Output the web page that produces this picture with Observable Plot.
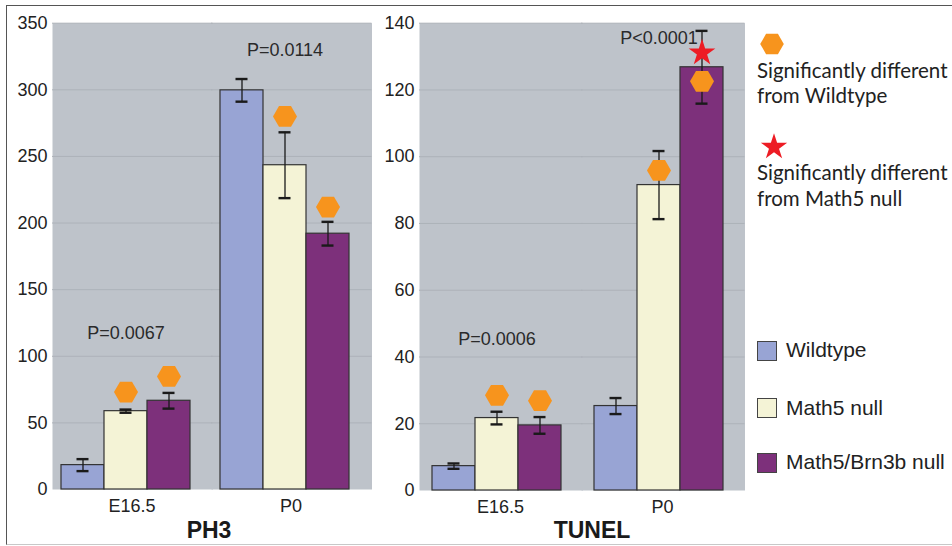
<!DOCTYPE html>
<html><head><meta charset="utf-8">
<script src="https://cdn.jsdelivr.net/npm/d3@7"></script>
<script src="https://cdn.jsdelivr.net/npm/@observablehq/plot@0.6"></script>
<style>
html,body{margin:0;padding:0;background:#fff;}
#root{position:relative;width:952px;height:546px;overflow:hidden;font-family:"Liberation Sans",Arial,sans-serif;color:#222;}
.frame{position:absolute;left:6px;top:5px;width:960px;height:538px;border-top:1.5px solid #555;border-left:1.5px solid #555;border-bottom:1px solid #c8c8c8;}
.panel{position:absolute;top:0;}
.title{position:absolute;font-family:"Liberation Sans",Arial,sans-serif;font-weight:bold;font-size:23px;color:#1a1a1a;transform:translate(-50%,-50%);white-space:nowrap;}
.sig{position:absolute;left:757px;font-family:Lato,"Open Sans",sans-serif;font-size:20.5px;line-height:25.5px;color:#222;white-space:nowrap;}
.icon{position:absolute;}
.sw{position:absolute;left:757px;width:18px;height:18px;border:1px solid #444;}
.swl{position:absolute;left:786px;font-family:"Liberation Sans",Arial,sans-serif;font-size:21px;line-height:24px;color:#222;white-space:nowrap;transform:translateY(-50%);}
</style>
</head><body>
<div id="root"><div class="frame"></div></div>
<script>
// ---------- data ----------
const stages = ["E16.5", "P0"];
const genotypes = ["Wildtype", "Math5 null", "Math5/Brn3b null"];
const genotypeColors = ["#98a4d4", "#f4f3d6", "#7d307b"];

// order: E16.5 (WT, Math5, Math5/Brn3b), P0 (WT, Math5, Math5/Brn3b)
const ph3Mean = [18.3, 58.8, 66.6, 299.6, 243.4, 192.0];
const ph3Err  = [4.5, 1.2, 5.9, 8.5, 24.7, 8.9];
const ph3HexAt = [null, 73.1, 84.9, null, 280.0, 212.0];
const ph3StarAt = [null, null, null, null, null, null];
const ph3PLabels = ["P=0.0067", "P=0.0114"];
const ph3PAt = [117, 330];
const ph3Ticks = [0, 50, 100, 150, 200, 250, 300, 350];

const tunelMean = [7.3, 21.7, 19.5, 25.3, 91.5, 126.8];
const tunelErr  = [0.8, 1.9, 2.5, 2.4, 10.2, 10.9];
const tunelHexAt = [null, 28.5, 26.9, null, 95.9, 122.6];
const tunelStarAt = [null, null, null, null, null, 131.1];
const tunelPLabels = ["P=0.0006", "P<0.0001"];
const tunelPAt = [45.2, 135.5];
const tunelTicks = [0, 20, 40, 60, 80, 100, 120, 140];

const legendSig = [
  {symbol: "hexagon", color: "#f7941d", lines: ["Significantly different", "from Wildtype"]},
  {symbol: "star", color: "#ed1c24", lines: ["Significantly different", "from Math5 null"]}
];

// ---------- drawing ----------
const root = document.getElementById("root");
const font = '"Liberation Sans", Arial, sans-serif';

function panel(o) {
  const rows = [];
  stages.forEach((s, i) => genotypes.forEach((g, j) => {
    const k = i * 3 + j;
    rows.push({stage: s, genotype: g, value: o.means[k], err: o.errs[k], hex: o.hexAt[k], star: o.starAt[k]});
  }));
  const pRows = stages.map((s, i) => ({stage: s, label: o.pLabels[i], at: o.pAt[i]}));
  return Plot.plot({
    width: o.width, height: 546,
    marginLeft: o.marginLeft, marginRight: o.marginRight, marginTop: o.marginTop, marginBottom: o.marginBottom,
    style: {background: "transparent", fontFamily: font, fontSize: "18px", color: "#222", overflow: "visible"},
    fx: {domain: stages, padding: 0, label: null, tickSize: 0, tickPadding: 10, axis: "bottom"},
    x: {domain: genotypes, paddingInner: 0, paddingOuter: o.paddingOuter, align: o.align, axis: null},
    y: {domain: [0, o.yMax], ticks: o.ticks, tickSize: 0, tickPadding: 5, label: null},
    color: {domain: genotypes, range: genotypeColors},
    marks: [
      Plot.frame({fill: "#bec3ca", stroke: null, insetRight: -1.5}),
      Plot.ruleY(o.ticks.filter(t => t > 0), {stroke: "#adb2b9", strokeWidth: 1, insetRight: -1.5}),
      Plot.barY(rows, {fx: "stage", x: "genotype", y: "value", fill: "genotype", stroke: "#333", strokeWidth: 1.2}),
      Plot.text(pRows, {fx: "stage", x: () => genotypes[1], y: "at", text: "label", fontSize: 18, fill: "#2a2a2a"}),
      Plot.ruleX(rows, {fx: "stage", x: "genotype", y1: d => d.value - d.err, y2: d => d.value + d.err, stroke: "#1a1a1a", strokeWidth: 1.3}),
      Plot.tickY(rows, {fx: "stage", x: "genotype", y: d => d.value + d.err, insetLeft: 15.5, insetRight: 15.5, stroke: "#1a1a1a", strokeWidth: 2.4}),
      Plot.tickY(rows, {fx: "stage", x: "genotype", y: d => d.value - d.err, insetLeft: 15.5, insetRight: 15.5, stroke: "#1a1a1a", strokeWidth: 2.4}),
      Plot.dot(rows.filter(d => d.hex != null), {fx: "stage", x: "genotype", y: "hex", symbol: "hexagon", r: 10.4, rotate: 90, fill: "#f7941d", stroke: null}),
      Plot.dot(rows.filter(d => d.star != null), {fx: "stage", x: "genotype", y: "star", symbol: "star", r: 8.4, fill: "#ed1c24", stroke: null})
    ]
  });
}

function place(el, left) {
  const wrap = document.createElement("div");
  wrap.className = "panel";
  wrap.style.left = left + "px";
  wrap.appendChild(el);
  root.appendChild(wrap);
}

place(panel({means: ph3Mean, errs: ph3Err, hexAt: ph3HexAt, starAt: ph3StarAt, pLabels: ph3PLabels, pAt: ph3PAt,
  ticks: ph3Ticks, yMax: 350, width: 380, marginLeft: 52, marginRight: 10, marginTop: 22.7, marginBottom: 57,
  paddingOuter: 0.31, align: 0.3}), 0);
place(panel({means: tunelMean, errs: tunelErr, hexAt: tunelHexAt, starAt: tunelStarAt, pLabels: tunelPLabels, pAt: tunelPAt,
  ticks: tunelTicks, yMax: 140, width: 390, marginLeft: 58, marginRight: 7, marginTop: 22.7, marginBottom: 56,
  paddingOuter: 0.35, align: 0.4}), 360);

// titles
[["PH3", 209, 530], ["TUNEL", 592, 530]].forEach(([t, x, y]) => {
  const d = document.createElement("div");
  d.className = "title"; d.textContent = t;
  d.style.left = x + "px"; d.style.top = y + "px";
  root.appendChild(d);
});

// significance legend
const hexPath = (R) => d3.line()(d3.range(6).map(i => [R * Math.cos(i * Math.PI / 3), R * Math.sin(i * Math.PI / 3)])) + "Z";
const starPath = d3.symbol(d3.symbolStar, 215)();
const sigPos = [{icon: [772, 43.5], text: 57.5}, {icon: [774, 146.5], text: 160}];
legendSig.forEach((item, i) => {
  const ns = "http://www.w3.org/2000/svg";
  const svg = document.createElementNS(ns, "svg");
  svg.setAttribute("width", 40); svg.setAttribute("height", 40);
  svg.setAttribute("class", "icon");
  svg.style.left = (sigPos[i].icon[0] - 20) + "px";
  svg.style.top = (sigPos[i].icon[1] - 20) + "px";
  const p = document.createElementNS(ns, "path");
  p.setAttribute("d", item.symbol === "hexagon" ? hexPath(11.8) : starPath);
  p.setAttribute("transform", "translate(20,20)");
  p.setAttribute("fill", item.color);
  svg.appendChild(p);
  root.appendChild(svg);
  const t = document.createElement("div");
  t.className = "sig";
  t.style.top = sigPos[i].text + "px";
  t.innerHTML = item.lines.join("<br>");
  root.appendChild(t);
});

// genotype swatch legend
const swatchY = [350, 407.5, 462];
genotypes.forEach((g, i) => {
  const s = document.createElement("div");
  s.className = "sw";
  s.style.top = (swatchY[i] - 9.5) + "px";
  s.style.background = genotypeColors[i];
  root.appendChild(s);
  const l = document.createElement("div");
  l.className = "swl";
  l.style.top = swatchY[i] + "px";
  l.textContent = g;
  root.appendChild(l);
});
</script>
</body></html>
